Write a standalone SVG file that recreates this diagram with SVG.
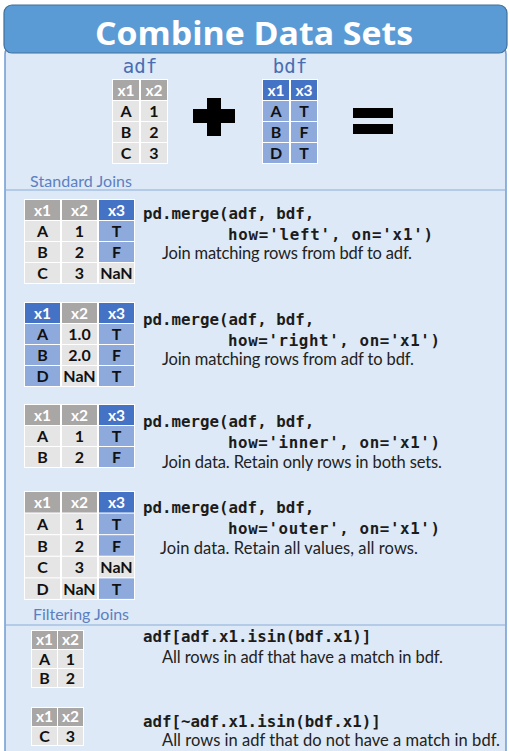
<svg xmlns="http://www.w3.org/2000/svg" width="510" height="751" viewBox="0 0 510 751">
<style>
.hdr{fill:#5b9bd5;stroke:#41719c;stroke-width:1.2}
.body{fill:#dde9f6;stroke:#6e9bd3;stroke-width:1.5}
.sep{stroke:#8cadd9;stroke-width:1.2}
.title{font-family:"Open Sans",Lato,"Liberation Sans",sans-serif;font-weight:bold;font-size:33px;fill:#ffffff}
.sect{font-family:Lato,"Liberation Sans",sans-serif;font-size:16px;fill:#5b80c2}
.dfname{font-family:"DejaVu Sans Mono","Liberation Mono",monospace;font-size:19px;fill:#4a6db2}
.code{font-family:"DejaVu Sans Mono","Liberation Mono",monospace;font-weight:bold;font-size:15.8px;fill:#1c1c1c}
.desc{font-family:Lato,"Liberation Sans",sans-serif;font-size:16.5px;fill:#222222}
.tbg{fill:#ffffff}
.gh{fill:#a9a6a6}
.gc{fill:#e5e5e5}
.bh{fill:#4472c4}
.bc{fill:#8eaadc}
.th{font-family:Lato,"Liberation Sans",sans-serif;font-weight:bold;font-size:15.5px;fill:#ffffff;text-anchor:middle}
.td{font-family:Lato,"Liberation Sans",sans-serif;font-weight:bold;font-size:16px;fill:#111111;text-anchor:middle}
.sign{fill:#000000}
</style>
<rect x="0" y="0" width="510" height="751" fill="#ffffff"/>
<rect class="body" x="5" y="46" width="501" height="720" rx="8"/>
<rect class="hdr" x="4" y="5" width="503" height="48" rx="8"/>
<text class="title" x="95" y="45" textLength="318" lengthAdjust="spacingAndGlyphs">Combine Data Sets</text>
<line class="sep" x1="5" y1="190" x2="506" y2="190"/>
<line class="sep" x1="5" y1="625" x2="506" y2="625"/>
<text class="sect" x="30" y="187" textLength="102">Standard Joins</text>
<text class="sect" x="33" y="620" textLength="96">Filtering Joins</text>

<g id="adf">
<text class="dfname" x="140" y="73" text-anchor="middle">adf</text>
<rect class="tbg" x="112" y="79" width="56" height="85"/>
<rect class="gh" x="113" y="80" width="26" height="20"/><rect class="gh" x="141" y="80" width="26" height="20"/>
<rect class="gc" x="113" y="101" width="26" height="20"/><rect class="gc" x="141" y="101" width="26" height="20"/>
<rect class="gc" x="113" y="122" width="26" height="20"/><rect class="gc" x="141" y="122" width="26" height="20"/>
<rect class="gc" x="113" y="143" width="26" height="20"/><rect class="gc" x="141" y="143" width="26" height="20"/>
<text class="th" x="126" y="95.5">x1</text><text class="th" x="154" y="95.5">x2</text>
<text class="td" x="126" y="117">A</text><text class="td" x="154" y="117">1</text>
<text class="td" x="126" y="138">B</text><text class="td" x="154" y="138">2</text>
<text class="td" x="126" y="159">C</text><text class="td" x="154" y="159">3</text>
</g>

<g id="plus">
<rect class="sign" x="207" y="98" width="14" height="38"/>
<rect class="sign" x="193" y="109" width="42" height="14"/>
</g>

<g id="bdf">
<text class="dfname" x="290" y="73" text-anchor="middle">bdf</text>
<rect class="tbg" x="262" y="79" width="56" height="85"/>
<rect class="bh" x="263" y="80" width="26" height="20"/><rect class="bh" x="291" y="80" width="26" height="20"/>
<rect class="bc" x="263" y="101" width="26" height="20"/><rect class="bc" x="291" y="101" width="26" height="20"/>
<rect class="bc" x="263" y="122" width="26" height="20"/><rect class="bc" x="291" y="122" width="26" height="20"/>
<rect class="bc" x="263" y="143" width="26" height="20"/><rect class="bc" x="291" y="143" width="26" height="20"/>
<text class="th" x="276" y="95.5">x1</text><text class="th" x="304" y="95.5">x3</text>
<text class="td" x="276" y="117">A</text><text class="td" x="304" y="117">T</text>
<text class="td" x="276" y="138">B</text><text class="td" x="304" y="138">F</text>
<text class="td" x="276" y="159">D</text><text class="td" x="304" y="159">T</text>
</g>

<g id="equals">
<rect class="sign" x="353" y="108" width="40" height="10"/>
<rect class="sign" x="353" y="124" width="40" height="10"/>
</g>

<g id="left-join">
<rect class="tbg" x="24" y="199" width="111" height="85"/>
<rect class="gh" x="25" y="200" width="35" height="20"/><rect class="gh" x="62" y="200" width="35" height="20"/><rect class="bh" x="99" y="200" width="35" height="20"/>
<rect class="gc" x="25" y="221" width="35" height="20"/><rect class="gc" x="62" y="221" width="35" height="20"/><rect class="bc" x="99" y="221" width="35" height="20"/>
<rect class="gc" x="25" y="242" width="35" height="20"/><rect class="gc" x="62" y="242" width="35" height="20"/><rect class="bc" x="99" y="242" width="35" height="20"/>
<rect class="gc" x="25" y="263" width="35" height="20"/><rect class="gc" x="62" y="263" width="35" height="20"/><rect class="gc" x="99" y="263" width="35" height="20"/>
<text class="th" x="42.5" y="215.5">x1</text><text class="th" x="79.5" y="215.5">x2</text><text class="th" x="116.5" y="215.5">x3</text>
<text class="td" x="42.5" y="237">A</text><text class="td" x="79.5" y="237">1</text><text class="td" x="116.5" y="237">T</text>
<text class="td" x="42.5" y="258">B</text><text class="td" x="79.5" y="258">2</text><text class="td" x="116.5" y="258">F</text>
<text class="td" x="42.5" y="279">C</text><text class="td" x="79.5" y="279">3</text><text class="td" x="116.5" y="279">NaN</text>
<text class="code" x="143" y="219">pd.merge(adf, bdf,</text>
<text class="code" x="228" y="240" textLength="205">how='left', on='x1')</text>
<text class="desc" x="162" y="259" textLength="250">Join matching rows from bdf to adf.</text>
</g>

<g id="right-join">
<rect class="tbg" x="24" y="302" width="111" height="85"/>
<rect class="bh" x="25" y="303" width="35" height="20"/><rect class="gh" x="62" y="303" width="35" height="20"/><rect class="bh" x="99" y="303" width="35" height="20"/>
<rect class="bc" x="25" y="324" width="35" height="20"/><rect class="gc" x="62" y="324" width="35" height="20"/><rect class="bc" x="99" y="324" width="35" height="20"/>
<rect class="bc" x="25" y="345" width="35" height="20"/><rect class="gc" x="62" y="345" width="35" height="20"/><rect class="bc" x="99" y="345" width="35" height="20"/>
<rect class="bc" x="25" y="366" width="35" height="20"/><rect class="gc" x="62" y="366" width="35" height="20"/><rect class="bc" x="99" y="366" width="35" height="20"/>
<text class="th" x="42.5" y="318.5">x1</text><text class="th" x="79.5" y="318.5">x2</text><text class="th" x="116.5" y="318.5">x3</text>
<text class="td" x="42.5" y="340">A</text><text class="td" x="79.5" y="340">1.0</text><text class="td" x="116.5" y="340">T</text>
<text class="td" x="42.5" y="361">B</text><text class="td" x="79.5" y="361">2.0</text><text class="td" x="116.5" y="361">F</text>
<text class="td" x="42.5" y="382">D</text><text class="td" x="79.5" y="382">NaN</text><text class="td" x="116.5" y="382">T</text>
<text class="code" x="143" y="325">pd.merge(adf, bdf,</text>
<text class="code" x="228" y="346" textLength="212">how='right', on='x1')</text>
<text class="desc" x="162" y="365" textLength="252">Join matching rows from adf to bdf.</text>
</g>

<g id="inner-join">
<rect class="tbg" x="24" y="404" width="111" height="64"/>
<rect class="gh" x="25" y="405" width="35" height="20"/><rect class="gh" x="62" y="405" width="35" height="20"/><rect class="bh" x="99" y="405" width="35" height="20"/>
<rect class="gc" x="25" y="426" width="35" height="20"/><rect class="gc" x="62" y="426" width="35" height="20"/><rect class="bc" x="99" y="426" width="35" height="20"/>
<rect class="gc" x="25" y="447" width="35" height="20"/><rect class="gc" x="62" y="447" width="35" height="20"/><rect class="bc" x="99" y="447" width="35" height="20"/>
<text class="th" x="42.5" y="420.5">x1</text><text class="th" x="79.5" y="420.5">x2</text><text class="th" x="116.5" y="420.5">x3</text>
<text class="td" x="42.5" y="442">A</text><text class="td" x="79.5" y="442">1</text><text class="td" x="116.5" y="442">T</text>
<text class="td" x="42.5" y="463">B</text><text class="td" x="79.5" y="463">2</text><text class="td" x="116.5" y="463">F</text>
<text class="code" x="143" y="427">pd.merge(adf, bdf,</text>
<text class="code" x="228" y="448" textLength="212">how='inner', on='x1')</text>
<text class="desc" x="162" y="468" textLength="280">Join data. Retain only rows in both sets.</text>
</g>

<g id="outer-join">
<rect class="tbg" x="24" y="491" width="111" height="109"/>
<rect class="gh" x="25" y="492" width="35" height="20.5"/><rect class="gh" x="62" y="492" width="35" height="20.5"/><rect class="bh" x="99" y="492" width="35" height="20.5"/>
<rect class="gc" x="25" y="513.6" width="35" height="20.5"/><rect class="gc" x="62" y="513.6" width="35" height="20.5"/><rect class="bc" x="99" y="513.6" width="35" height="20.5"/>
<rect class="gc" x="25" y="535.2" width="35" height="20.5"/><rect class="gc" x="62" y="535.2" width="35" height="20.5"/><rect class="bc" x="99" y="535.2" width="35" height="20.5"/>
<rect class="gc" x="25" y="556.8" width="35" height="20.5"/><rect class="gc" x="62" y="556.8" width="35" height="20.5"/><rect class="gc" x="99" y="556.8" width="35" height="20.5"/>
<rect class="gc" x="25" y="578.4" width="35" height="20.5"/><rect class="gc" x="62" y="578.4" width="35" height="20.5"/><rect class="bc" x="99" y="578.4" width="35" height="20.5"/>
<text class="th" x="42.5" y="508">x1</text><text class="th" x="79.5" y="508">x2</text><text class="th" x="116.5" y="508">x3</text>
<text class="td" x="42.5" y="530">A</text><text class="td" x="79.5" y="530">1</text><text class="td" x="116.5" y="530">T</text>
<text class="td" x="42.5" y="551.5">B</text><text class="td" x="79.5" y="551.5">2</text><text class="td" x="116.5" y="551.5">F</text>
<text class="td" x="42.5" y="573">C</text><text class="td" x="79.5" y="573">3</text><text class="td" x="116.5" y="573">NaN</text>
<text class="td" x="42.5" y="595">D</text><text class="td" x="79.5" y="595">NaN</text><text class="td" x="116.5" y="595">T</text>
<text class="code" x="143" y="513">pd.merge(adf, bdf,</text>
<text class="code" x="228" y="534" textLength="212">how='outer', on='x1')</text>
<text class="desc" x="160" y="554" textLength="258">Join data. Retain all values, all rows.</text>
</g>

<g id="semi-join">
<rect class="tbg" x="31" y="630" width="53" height="58"/>
<rect class="gh" x="32" y="631" width="25" height="18"/><rect class="gh" x="58" y="631" width="25" height="18"/>
<rect class="gc" x="32" y="650" width="25" height="18"/><rect class="gc" x="58" y="650" width="25" height="18"/>
<rect class="gc" x="32" y="669" width="25" height="18"/><rect class="gc" x="58" y="669" width="25" height="18"/>
<text class="th" x="44.5" y="645">x1</text><text class="th" x="70.5" y="645">x2</text>
<text class="td" x="44.5" y="665">A</text><text class="td" x="70.5" y="665">1</text>
<text class="td" x="44.5" y="684">B</text><text class="td" x="70.5" y="684">2</text>
<text class="code" x="143" y="642">adf[adf.x1.isin(bdf.x1)]</text>
<text class="desc" x="162" y="663" textLength="281">All rows in adf that have a match in bdf.</text>
</g>

<g id="anti-join">
<rect class="tbg" x="31" y="707" width="53" height="39"/>
<rect class="gh" x="32" y="708" width="25" height="18"/><rect class="gh" x="58" y="708" width="25" height="18"/>
<rect class="gc" x="32" y="727" width="25" height="18"/><rect class="gc" x="58" y="727" width="25" height="18"/>
<text class="th" x="44.5" y="722">x1</text><text class="th" x="70.5" y="722">x2</text>
<text class="td" x="44.5" y="742">C</text><text class="td" x="70.5" y="742">3</text>
<text class="code" x="143" y="727">adf[~adf.x1.isin(bdf.x1)]</text>
<text class="desc" x="162" y="746" textLength="338">All rows in adf that do not have a match in bdf.</text>
</g>
</svg>
